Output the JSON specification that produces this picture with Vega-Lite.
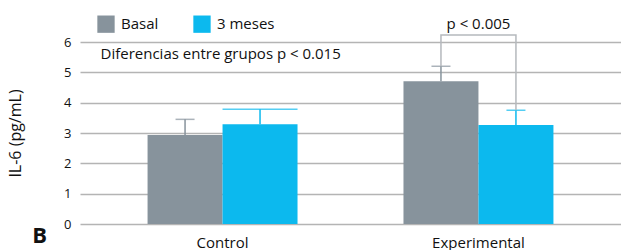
{
  "$schema": "https://vega.github.io/schema/vega-lite/v6.json",
  "width": 541,
  "height": 182,
  "autosize": "none",
  "padding": {"left": 80, "top": 42, "right": 0, "bottom": 26},
  "background": "white",
  "config": {
    "view": {"stroke": null},
    "font": "Open Sans",
    "axis": {"labelFont": "Open Sans", "titleFont": "Open Sans", "labelColor": "#111", "titleColor": "#111"},
    "legend": {"labelFont": "Open Sans"}
  },
  "datasets": {
    "bars": [
      {"group": "Control", "cond": "Basal", "mean": 2.93, "upper": 3.45},
      {"group": "Control", "cond": "3 meses", "mean": 3.29, "upper": 3.78},
      {"group": "Experimental", "cond": "Basal", "mean": 4.71, "upper": 5.2},
      {"group": "Experimental", "cond": "3 meses", "mean": 3.26, "upper": 3.75}
    ],
    "bracket": [
      {"group": "Experimental", "cond": "Basal", "y": 5.2, "ord": 1},
      {"group": "Experimental", "cond": "Basal", "y": 6.23, "ord": 2},
      {"group": "Experimental", "cond": "3 meses", "y": 6.23, "ord": 3},
      {"group": "Experimental", "cond": "3 meses", "y": 3.75, "ord": 4}
    ],
    "notes": [
      {"group": "Control", "y": 5.62, "label": "Diferencias entre grupos p < 0.015", "kind": "diff"},
      {"group": "Experimental", "y": 6.6, "label": "p < 0.005", "kind": "p"},
      {"group": "Control", "y": 0, "label": "B", "kind": "panel"}
    ]
  },
  "encoding": {
    "x": {
      "field": "group", "type": "nominal",
      "scale": {"domain": ["Control", "Experimental"], "paddingInner": 0.414, "paddingOuter": 0.264},
      "axis": {"title": null, "labelAngle": 0, "domain": false, "ticks": false, "labelFontSize": 15, "labelPadding": 11, "labelColor": "#111"}
    }
  },
  "layer": [
    {
      "data": {"name": "bars"},
      "mark": {"type": "bar", "width": {"band": 1}},
      "encoding": {
        "xOffset": {"field": "cond", "type": "nominal", "scale": {"domain": ["Basal", "3 meses"], "paddingInner": 0, "paddingOuter": 0}},
        "y": {
          "field": "mean", "type": "quantitative",
          "scale": {"domain": [0, 6], "nice": false},
          "axis": {"title": "IL-6 (pg/mL)", "titleFontSize": 16, "titleFontWeight": "normal", "titlePadding": 40, "values": [0, 1, 2, 3, 4, 5, 6], "tickCount": 7, "domain": false, "ticks": false, "labelFontSize": 13, "labelPadding": 9, "gridColor": "#b4b4b4", "gridWidth": 1.6}
        },
        "color": {
          "field": "cond", "type": "nominal",
          "scale": {"domain": ["Basal", "3 meses"], "range": ["#87939c", "#0cb9ee"]},
          "legend": {"title": null, "orient": "none", "legendX": 17, "legendY": -27, "direction": "horizontal", "symbolType": "square", "symbolSize": 300, "symbolStrokeWidth": 0, "symbolOpacity": 1, "labelFontSize": 15, "labelColor": "#111", "labelOffset": 6, "columnPadding": 34,
            "encode": {"symbols": {"update": {"opacity": {"value": 1}, "fillOpacity": {"value": 1}, "strokeWidth": {"value": 0}}}}}
        }
      }
    },
    {
      "data": {"name": "bars"},
      "mark": {"type": "rule", "strokeWidth": 1.5},
      "encoding": {
        "xOffset": {"field": "cond", "type": "nominal"},
        "y": {"field": "mean", "type": "quantitative"},
        "y2": {"field": "upper"},
        "color": {"field": "cond", "type": "nominal"}
      }
    },
    {
      "data": {"name": "bars"},
      "transform": [{"filter": "!(datum.group === 'Control' && datum.cond === '3 meses')"}],
      "mark": {"type": "tick", "orient": "horizontal", "size": 19, "thickness": 1.5},
      "encoding": {
        "xOffset": {"field": "cond", "type": "nominal"},
        "y": {"field": "upper", "type": "quantitative"},
        "color": {"field": "cond", "type": "nominal"}
      }
    },
    {
      "data": {"name": "bars"},
      "transform": [{"filter": "datum.group === 'Control' && datum.cond === '3 meses'"}],
      "mark": {"type": "tick", "orient": "horizontal", "size": 75, "thickness": 1.5},
      "encoding": {
        "xOffset": {"field": "cond", "type": "nominal"},
        "y": {"field": "upper", "type": "quantitative"},
        "color": {"field": "cond", "type": "nominal"}
      }
    },
    {
      "data": {"name": "bracket"},
      "mark": {"type": "line", "color": "#b5b9bd", "strokeWidth": 1.5},
      "encoding": {
        "xOffset": {"field": "cond", "type": "nominal"},
        "y": {"field": "y", "type": "quantitative"},
        "order": {"field": "ord"}
      }
    },
    {
      "data": {"name": "notes"},
      "transform": [{"filter": "datum.kind === 'diff'"}],
      "mark": {"type": "text", "align": "left", "baseline": "middle", "fontSize": 15, "dx": -122, "color": "#111"},
      "encoding": {
        "y": {"field": "y", "type": "quantitative"},
        "text": {"field": "label"}
      }
    },
    {
      "data": {"name": "notes"},
      "transform": [{"filter": "datum.kind === 'p'"}],
      "mark": {"type": "text", "align": "center", "baseline": "middle", "fontSize": 15, "color": "#111"},
      "encoding": {
        "y": {"field": "y", "type": "quantitative"},
        "text": {"field": "label"}
      }
    },
    {
      "data": {"name": "notes"},
      "transform": [{"filter": "datum.kind === 'panel'"}],
      "mark": {"type": "text", "align": "center", "baseline": "alphabetic", "fontSize": 22, "fontWeight": "bold", "dx": -183, "dy": 19, "color": "#111"},
      "encoding": {
        "y": {"field": "y", "type": "quantitative"},
        "text": {"field": "label"}
      }
    }
  ]
}
